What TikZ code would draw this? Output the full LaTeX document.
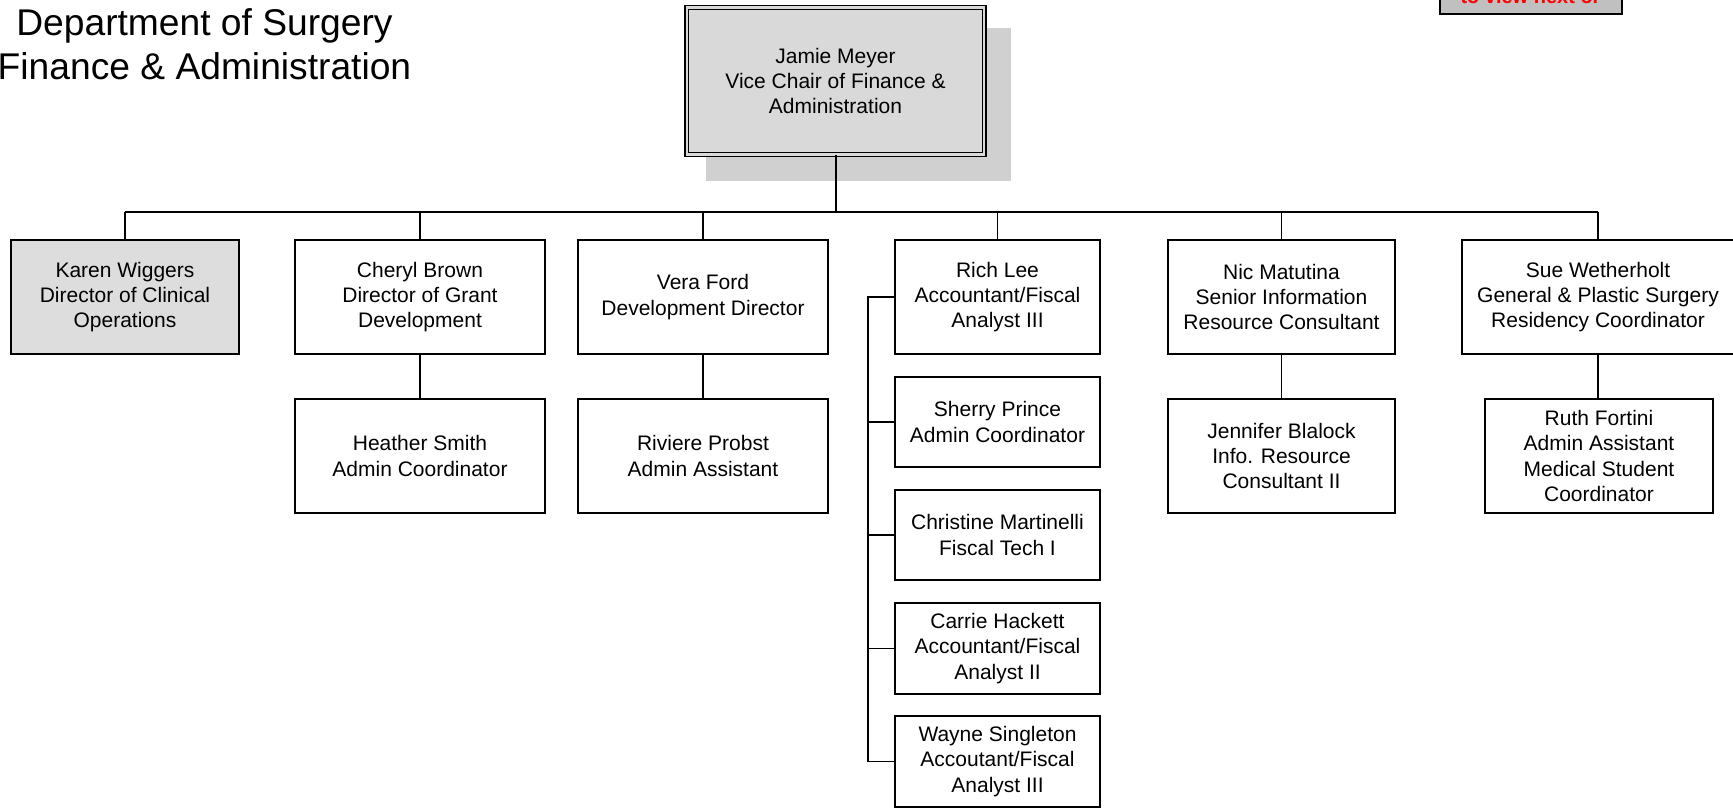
\documentclass[tikz,border=0pt]{standalone}
\usepackage{fontspec}
\setmainfont{Liberation Sans}
\usetikzlibrary{backgrounds}
\definecolor{topgray}{HTML}{D9D9D9}
\definecolor{shadowgray}{HTML}{D0D0D0}
\definecolor{karengray}{HTML}{DDDDDD}
\definecolor{notegray}{HTML}{C0C0C0}
\newcommand\boxfont{\fontsize{21}{25.4}\selectfont}
\newcommand\titlefont{\fontsize{37.2}{44}\selectfont}
\tikzset{
  orgbox/.style={draw, line width=1.4pt, align=center, inner sep=0pt, outer sep=0pt, font=\boxfont, fill=white},
  rowone/.style={orgbox, minimum height=114pt},
  smallbox/.style={orgbox, minimum width=205pt},
  conn/.style={line width=1.5pt},
}
\begin{document}
\begin{tikzpicture}[x=1pt,y=-1pt]
\useasboundingbox (0,0) rectangle (1733,809);
\clip (0,0) rectangle (1733,809);
% title
\node[align=center, font=\titlefont, inner sep=0pt] (title) at (204.5,44.4) {Department of Surgery\\Finance \& Administration};
% note box clipped at top right
\node[draw, line width=2pt, fill=notegray, minimum width=182pt, minimum height=40pt, inner sep=0pt, outer sep=0pt] (note) at (1530.5,-6.5) {};
\node[anchor=base, text=red, font=\fontsize{20}{24}\selectfont\bfseries, inner sep=0pt] (notetext) at (1530.5,3) {to view next or};
% top box
\node[orgbox, fill=topgray, double=topgray, double distance=2.2pt, line width=1.3pt,
      minimum width=297.5pt, minimum height=147pt]
      (top) at (835.5,81) {Jamie Meyer\\Vice Chair of Finance \&\\Administration};
\begin{scope}[on background layer]
  \fill[shadowgray] (706,27.6) rectangle (1010.5,180.5);
\end{scope}
% row one
\node[rowone, fill=karengray, minimum width=228pt] (karen) at (125,297) {Karen Wiggers\\Director of Clinical\\Operations};
\node[rowone, minimum width=250pt] (cheryl) at (420,297) {Cheryl Brown\\Director of Grant\\Development};
\node[rowone, minimum width=250pt] (vera) at (703,297) {Vera Ford\\Development Director};
\node[rowone, minimum width=205pt] (rich) at (997.5,297) {Rich Lee\\Accountant/Fiscal\\Analyst III};
\node[rowone, minimum width=227pt] (nic) at (1281.5,297) {Nic Matutina\\Senior Information\\Resource Consultant};
\node[rowone, minimum width=272pt] (sue) at (1598,297) {Sue Wetherholt\\General \& Plastic Surgery\\Residency Coordinator};
% row two
\node[rowone, minimum width=250pt] (heather) at (420,456) {Heather Smith\\Admin Coordinator};
\node[rowone, minimum width=250pt] (riviere) at (703,456) {Riviere Probst\\Admin Assistant};
\node[rowone, minimum width=227pt] (jennifer) at (1281.5,456) {Jennifer Blalock\\Info. Resource\\Consultant II};
\node[rowone, minimum width=228pt] (ruth) at (1599,456) {Ruth Fortini\\Admin Assistant\\Medical Student\\Coordinator};
% Rich Lee column
\node[smallbox, minimum height=90pt] (sherry) at (997.5,422) {Sherry Prince\\Admin Coordinator};
\node[smallbox, minimum height=90pt] (christine) at (997.5,535) {Christine Martinelli\\Fiscal Tech I};
\node[smallbox, minimum height=91pt] (carrie) at (997.5,648.5) {Carrie Hackett\\Accountant/Fiscal\\Analyst II};
\node[smallbox, minimum height=91pt] (wayne) at (997.5,761.5) {Wayne Singleton\\Accoutant/Fiscal\\Analyst III};
% connectors
\coordinate (bus) at (0,212);
\coordinate (spine) at (868,0);
\draw[line width=2pt] (top.south) -- (top.south |- bus);
\draw[conn] (karen.north |- bus) -- (sue.north |- bus);
\foreach \c in {karen,cheryl,vera,rich,nic,sue}{
  \draw[conn] (\c.north |- bus) -- (\c.north);
}
\draw[conn] (cheryl.south) -- (heather.north);
\draw[conn] (vera.south) -- (riviere.north);
\draw[conn] (nic.south) -- (jennifer.north);
\draw[conn] (sue.south) -- (sue.south |- ruth.north);
\draw[conn] (rich.west) -- (rich.west -| spine) -- (wayne.west -| spine) -- (wayne.west);
\foreach \c in {sherry,christine,carrie}{
  \draw[conn] (\c.west -| spine) -- (\c.west);
}
\end{tikzpicture}
\end{document}
